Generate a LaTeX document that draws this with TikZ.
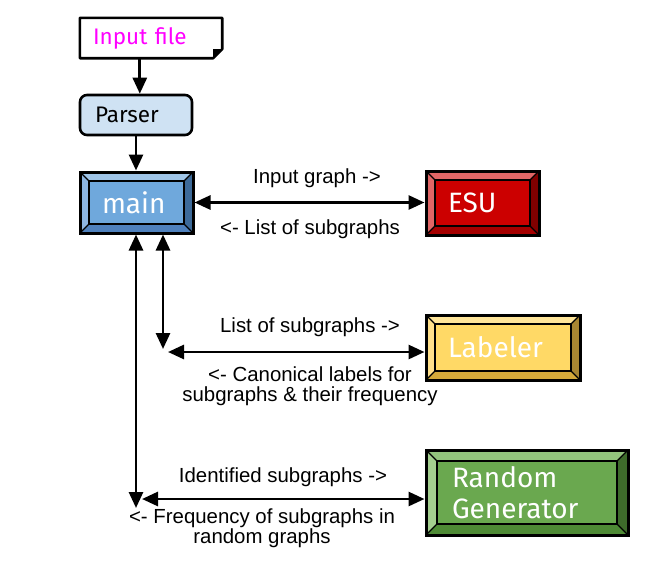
\documentclass[tikz,border=0pt]{standalone}
\usepackage{fontspec}
\setmainfont{Liberation Sans}
\newfontfamily\boxfont{Fira Sans}
\usetikzlibrary{arrows.meta,calc}
\definecolor{mainIn}{HTML}{6FA8DC}
\definecolor{mainTop}{HTML}{9FC5E8}
\definecolor{mainLeft}{HTML}{8DB6E2}
\definecolor{mainBot}{HTML}{4F81BD}
\definecolor{mainRight}{HTML}{3D6A99}
\definecolor{esuIn}{HTML}{CC0000}
\definecolor{esuTop}{HTML}{E06666}
\definecolor{esuLeft}{HTML}{E06666}
\definecolor{esuBot}{HTML}{A50000}
\definecolor{esuRight}{HTML}{800000}
\definecolor{labIn}{HTML}{FFD966}
\definecolor{labTop}{HTML}{FFE599}
\definecolor{labLeft}{HTML}{FFE08A}
\definecolor{labBot}{HTML}{D4A93A}
\definecolor{labRight}{HTML}{A88632}
\definecolor{rndIn}{HTML}{6AA84F}
\definecolor{rndTop}{HTML}{93C47D}
\definecolor{rndLeft}{HTML}{A4CF8F}
\definecolor{rndBot}{HTML}{4E8A35}
\definecolor{rndRight}{HTML}{3E6B2B}
\definecolor{parserFill}{HTML}{CFE2F3}
\definecolor{inputText}{HTML}{FF00FF}
\begin{document}
\begin{tikzpicture}[x=1pt,y=-1pt,
  arr/.style={line width=2.8pt,-{Triangle[length=16pt,width=14pt]}},
  darr/.style={line width=2.8pt,{Triangle[length=16pt,width=14pt]}-{Triangle[length=16pt,width=14pt]}},
  lbl/.style={font=\fontsize{20.4}{20}\selectfont, inner sep=0pt, anchor=base, align=center},
  bevel/.style n args={6}{fill=#1, draw=black, line width=3pt,
    path picture={
      \path (path picture bounding box.north west) coordinate (oNW)
            (path picture bounding box.north east) coordinate (oNE)
            (path picture bounding box.south east) coordinate (oSE)
            (path picture bounding box.south west) coordinate (oSW);
      \path ($(oNW)+(#6pt,-#6pt)$) coordinate (iNW)
            ($(oNE)+(-#6pt,-#6pt)$) coordinate (iNE)
            ($(oSE)+(-#6pt,#6pt)$) coordinate (iSE)
            ($(oSW)+(#6pt,#6pt)$) coordinate (iSW);
      \fill[#2] (oNW) -- (oNE) -- (iNE) -- (iNW) -- cycle;
      \fill[#5] (oNE) -- (oSE) -- (iSE) -- (iNE) -- cycle;
      \fill[#4] (oSE) -- (oSW) -- (iSW) -- (iSE) -- cycle;
      \fill[#3] (oSW) -- (oNW) -- (iNW) -- (iSW) -- cycle;
      \draw[line width=1.2pt] (oNW) -- (iNW) (oNE) -- (iNE) (oSE) -- (iSE) (oSW) -- (iSW);
      \draw[line width=2.4pt] (iNW) rectangle (iSE);
    }},
  boxtxt/.style={font=\boxfont\fontsize{28}{31}\selectfont, text=white, align=left, inner ysep=0pt},
  smalltxt/.style={font=\boxfont\fontsize{22.5}{26}\selectfont, align=left, inner ysep=0pt}
]
\useasboundingbox (0,0) rectangle (658,579);

% Input file (document with folded corner)
\node[smalltxt, text=inputText, minimum height=40pt, inner xsep=13pt, text width=116pt] (input) at (151,38) {};
\draw[line width=2.6pt, line join=round, fill=white]
  (input.north west) -- (input.north east) -- ($(input.south east)+(0pt,9pt)$)
  -- ($(input.south east)+(-9pt,0pt)$) -- (input.south west) -- cycle;
\fill ($(input.south east)+(0pt,9pt)$) -- ($(input.south east)+(-9pt,0pt)$) -- ($(input.south east)+(-9pt,9pt)$) -- cycle;
\node[smalltxt, text=inputText, minimum height=40pt, inner xsep=13pt, text width=116pt] (inputtext) at (input.center) {Input file};

% Parser
\node[smalltxt, fill=parserFill, draw=black, line width=2.6pt, rounded corners=7pt,
      minimum height=40pt, inner xsep=15pt, text width=82pt] (parser) at (136,115) {Parser};

% Bevel boxes
\node[bevel={mainIn}{mainTop}{mainLeft}{mainBot}{mainRight}{9}, boxtxt,
      minimum height=61pt, inner xsep=22pt, text width=69pt] (main) at (136.5,202.5) {main};
\node[bevel={esuIn}{esuTop}{esuLeft}{esuBot}{esuRight}{9}, boxtxt,
      minimum height=64pt, inner xsep=22pt, text width=69pt] (esu) at (482.5,203) {ESU};
\node[bevel={labIn}{labTop}{labLeft}{labBot}{labRight}{9}, boxtxt,
      minimum height=65pt, inner xsep=22pt, text width=110pt] (labeler) at (503,347.5) {Labeler};
\node[bevel={rndIn}{rndTop}{rndLeft}{rndBot}{rndRight}{11}, boxtxt,
      minimum height=85pt, inner xsep=26pt, text width=150pt] (random) at (527,492.5) {Random\\Generator};

% Connectors
\draw[arr] ($(input.south west)+(60pt,0pt)$) coordinate (a1) -- (a1 |- parser.north);
\draw[arr] (parser.south) -- (parser.south |- main.north);
\draw[darr] (main.east) -- (main.east -| esu.west);

\coordinate (v1) at (163,349);
\coordinate (h1) at (168,352);
\draw[darr] (v1 |- main.south) -- (v1);
\draw[darr] (h1) -- (h1 -| labeler.west);

\coordinate (v2) at (136,508);
\coordinate (h2) at (142,499);
\draw[darr] (v2 |- main.south) -- (v2);
\draw[darr] (h2) -- (h2 -| random.west);

% Labels
\node[lbl] (l1) at (317,183) {Input graph ->};
\node[lbl] (l2) at (310,234) {<- List of subgraphs};
\node[lbl] (l3) at (310,332) {List of subgraphs ->};
\node[lbl] (l4) at (310,401) {<- Canonical labels for\\subgraphs \& their frequency};
\node[lbl] (l5) at (283,482) {Identified subgraphs ->};
\node[lbl] (l6) at (262,543) {<- Frequency of subgraphs in\\random graphs};
\end{tikzpicture}
\end{document}
